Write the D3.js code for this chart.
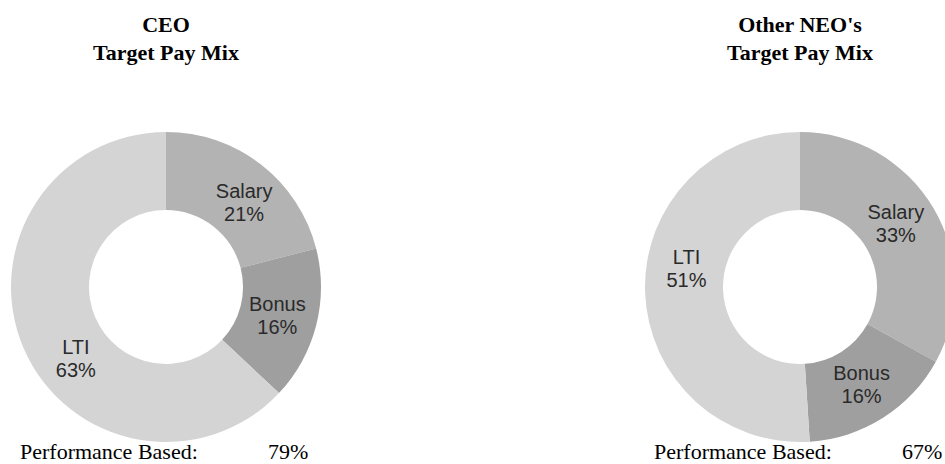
<!DOCTYPE html>
<html>
<head>
<meta charset="utf-8">
<script src="https://cdn.jsdelivr.net/npm/d3@7"></script>
<style>
  body { margin: 0; background: #fff; }
  svg { display: block; }
</style>
</head>
<body>
<div id="chart"></div>
<script>
var categories = ['Salary', 'Bonus', 'LTI'];
var ceoValues = [21, 16, 63];
var neoValues = [33, 16, 51];
var chartTitles = [['CEO', 'Target Pay Mix'], ["Other NEO's", 'Target Pay Mix']];
var perfLabel = 'Performance Based:';
var perfValues = [79, 67];

var col_salary = '#b3b3b3';
var col_bonus  = '#9f9f9f';
var col_lti    = '#d4d4d4';
var col_text   = '#2a2a2a';

var width = 945, height = 464;
var outerR = 155, innerR = 77, labelR = 115;
var centers = [[166, 287], [800, 287]];
// small angle nudges (degrees) so labels sit where the original put them
var labelNudge = [[5, 0, -15], [-3, 0, 11]];

var color = d3.scaleOrdinal().domain(categories).range([col_salary, col_bonus, col_lti]);

var svg = d3.select('#chart').append('svg')
    .attr('width', width)
    .attr('height', height);

var pie = d3.pie().sort(null).value(function(d) { return d.value; });
var arc = d3.arc().innerRadius(innerR).outerRadius(outerR);

[ceoValues, neoValues].forEach(function(vals, i) {
    var data = categories.map(function(c, j) { return {name: c, value: vals[j]}; });
    var g = svg.append('g')
        .attr('transform', 'translate(' + centers[i][0] + ',' + centers[i][1] + ')');

    var slices = pie(data);
    g.selectAll('path')
        .data(slices)
        .enter().append('path')
        .attr('d', arc)
        .attr('fill', function(d) { return color(d.data.name); });

    var labels = g.selectAll('text.lbl')
        .data(slices)
        .enter().append('text')
        .attr('class', 'lbl')
        .attr('text-anchor', 'middle')
        .style('font-family', '"Liberation Sans", Arial, sans-serif')
        .style('font-size', '20px')
        .style('fill', col_text)
        .attr('transform', function(d, j) {
            var a = (d.startAngle + d.endAngle) / 2 + labelNudge[i][j] * Math.PI / 180;
            return 'translate(' + (labelR * Math.sin(a)) + ',' + (-labelR * Math.cos(a)) + ')';
        });
    labels.append('tspan').attr('x', 0).attr('y', -4.5).text(function(d) { return d.data.name; });
    labels.append('tspan').attr('x', 0).attr('y', 18.5).text(function(d) { return d.data.value + '%'; });

    // title
    svg.append('text')
        .attr('text-anchor', 'middle')
        .attr('x', centers[i][0])
        .style('font-family', '"Liberation Serif", "Times New Roman", serif')
        .style('font-weight', 'bold')
        .style('font-size', '22px')
        .style('fill', '#000')
        .selectAll('tspan')
        .data(chartTitles[i])
        .enter().append('tspan')
        .attr('x', centers[i][0])
        .attr('y', function(d, k) { return 32 + k * 28; })
        .text(function(d) { return d; });

    // performance based line
    var px = centers[i][0] - 146;
    svg.append('text')
        .attr('x', px)
        .attr('y', 459)
        .style('font-family', '"Liberation Serif", "Times New Roman", serif')
        .style('font-size', '22px')
        .style('fill', '#000')
        .text(perfLabel);
    svg.append('text')
        .attr('x', px + 248)
        .attr('y', 459)
        .style('font-family', '"Liberation Serif", "Times New Roman", serif')
        .style('font-size', '22px')
        .style('fill', '#000')
        .text(perfValues[i] + '%');
});
</script>
</body>
</html>
